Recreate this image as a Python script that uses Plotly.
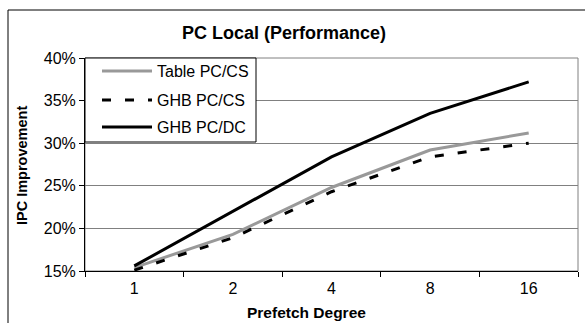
import plotly.graph_objects as go

# Prefetch degree categories and IPC improvement (%) for each scheme
degrees = ["1", "2", "4", "8", "16"]
table_pc_cs = [15.4, 19.3, 24.8, 29.2, 31.2]
ghb_pc_cs = [15.1, 18.9, 24.3, 28.4, 30.0]
ghb_pc_dc = [15.6, 22.0, 28.4, 33.5, 37.2]
series_names = ["Table PC/CS", "GHB PC/CS", "GHB PC/DC"]
y_ticks = [15, 20, 25, 30, 35, 40]
y_tick_labels = [f"{v}%" for v in y_ticks]

W, H = 585, 323
L, R, T, B = 85, 7, 58, 52
PW, PH = W - L - R, H - T - B
FONT = "Liberation Sans, Arial, sans-serif"


def px_x(x):
    return (x - L) / PW


def px_y(y):
    return (H - B - y) / PH


styles = [
    dict(color="#999999", width=3),
    dict(color="#000000", width=3, dash="9px,14px"),
    dict(color="#000000", width=3),
]
series = [table_pc_cs, ghb_pc_cs, ghb_pc_dc]

fig = go.Figure()
for name, vals, st in zip(series_names, series, styles):
    fig.add_trace(go.Scatter(x=degrees, y=vals, mode="lines", name=name,
                             line=st, showlegend=False))

shapes = [
    # outer chart frame
    dict(type="rect", xref="paper", yref="paper",
         x0=px_x(8), x1=px_x(620), y0=px_y(10), y1=px_y(360),
         line=dict(color="#000000", width=1), layer="below"),
    # plot area frame (top/right in gray)
    dict(type="rect", xref="paper", yref="paper", x0=0, x1=1, y0=0, y1=1,
         line=dict(color="#808080", width=1), layer="below"),
    # legend box
    dict(type="rect", xref="paper", yref="paper",
         x0=px_x(85), x1=px_x(256), y0=px_y(142), y1=px_y(58),
         line=dict(color="#000000", width=1), fillcolor="white", layer="above"),
]

annotations = []
legend_rows = [71, 100, 127]
for name, st, ry in zip(series_names, styles, legend_rows):
    shapes.append(dict(type="line", xref="paper", yref="paper",
                       x0=px_x(102), x1=px_x(152), y0=px_y(ry), y1=px_y(ry),
                       line=st, layer="above"))
    annotations.append(dict(text=name, xref="paper", yref="paper",
                            x=px_x(155), y=px_y(ry), xanchor="left",
                            yanchor="middle", showarrow=False,
                            font=dict(family=FONT, size=16, color="#000000")))

annotations += [
    dict(text="<b>PC Local (Performance)</b>", xref="paper", yref="paper",
         x=px_x(284), y=px_y(33), xanchor="center", yanchor="middle",
         showarrow=False, font=dict(family=FONT, size=18, color="#000000")),
    dict(text="<b>IPC Improvement</b>", xref="paper", yref="paper",
         x=px_x(22), y=px_y(165), xanchor="center", yanchor="middle",
         textangle=-90, showarrow=False,
         font=dict(family=FONT, size=14.5, color="#000000")),
    dict(text="<b>Prefetch Degree</b>", xref="paper", yref="paper",
         x=px_x(306), y=px_y(312), xanchor="center", yanchor="middle",
         showarrow=False, font=dict(family=FONT, size=15.5, color="#000000")),
]

fig.update_layout(
    width=W, height=H,
    margin=dict(l=L, r=R, t=T, b=B, pad=0),
    paper_bgcolor="white", plot_bgcolor="white",
    showlegend=False,
    shapes=shapes, annotations=annotations,
    font=dict(family=FONT, size=15, color="#000000"),
)
fig.update_xaxes(
    type="category", range=[-0.5, len(degrees) - 0.5],
    tickson="boundaries", ticks="outside", ticklen=5,
    tickcolor="#000000", showline=True, linecolor="#000000", linewidth=1,
    showgrid=False, tickfont=dict(family=FONT, size=16, color="#000000"),
    ticklabelstandoff=3, fixedrange=True,
)
fig.update_yaxes(
    range=[15, 40], tickmode="array", tickvals=y_ticks, ticktext=y_tick_labels,
    ticks="outside", ticklen=5, tickcolor="#000000", showline=True,
    linecolor="#000000", linewidth=1, showgrid=True, gridcolor="#808080",
    gridwidth=1, zeroline=False,
    tickfont=dict(family=FONT, size=16, color="#000000"),
    fixedrange=True,
)

fig.write_html("out.html", config={"displayModeBar": False})
